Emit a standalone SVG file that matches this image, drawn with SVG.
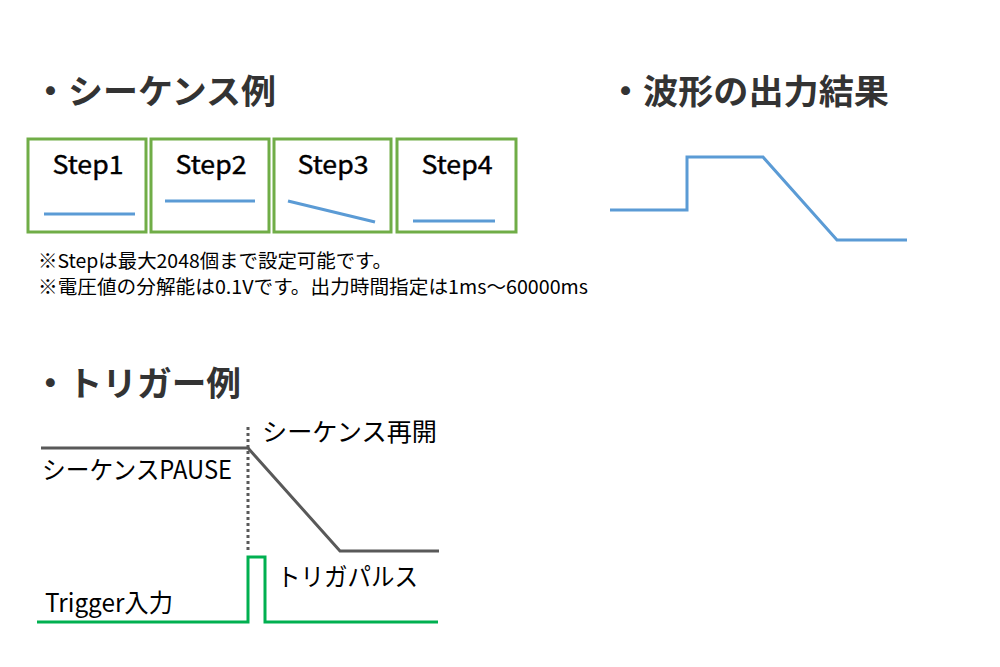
<svg xmlns="http://www.w3.org/2000/svg" width="1000" height="667" viewBox="0 0 1000 667">
<style>
.h{font-family:"Noto Sans CJK JP","Noto Sans",sans-serif;font-weight:bold;font-size:34px;fill:#333333}
.box{fill:#ffffff;stroke:#70AD47;stroke-width:3}
.step{font-family:"Noto Sans CJK JP","Noto Sans",sans-serif;font-size:25px;font-weight:normal;fill:#000000;text-anchor:middle;stroke:#000000;stroke-width:0.4}
.blue{fill:none;stroke:#5B9BD5;stroke-width:3}
.note{font-family:"Noto Sans CJK JP","Liberation Sans",sans-serif;font-size:19px;fill:#000000}
.lbl{font-family:"Noto Sans CJK JP","Noto Sans",sans-serif;font-size:25px;fill:#000000}
.gray{fill:none;stroke:#595959;stroke-width:3}
.green{fill:none;stroke:#00B050;stroke-width:3}
</style>
<rect width="1000" height="667" fill="#ffffff"/>
<g id="titles">
<text class="h" x="33" y="104" textLength="243" lengthAdjust="spacingAndGlyphs">・シーケンス例</text>
<text class="h" x="608" y="104" textLength="281" lengthAdjust="spacingAndGlyphs">・波形の出力結果</text>
<text class="h" x="33" y="396" textLength="208" lengthAdjust="spacingAndGlyphs">・トリガー例</text>
</g>
<g id="step1">
<rect class="box" x="28" y="139" width="118" height="93"/>
<text class="step" x="88" y="174" textLength="71" lengthAdjust="spacingAndGlyphs">Step1</text>
<line class="blue" x1="44" y1="214" x2="135" y2="214"/>
</g>
<g id="step2">
<rect class="box" x="151" y="139" width="118" height="93"/>
<text class="step" x="211" y="174" textLength="71" lengthAdjust="spacingAndGlyphs">Step2</text>
<line class="blue" x1="165" y1="201" x2="255" y2="201"/>
</g>
<g id="step3">
<rect class="box" x="274" y="139" width="117" height="93"/>
<text class="step" x="333" y="174" textLength="71" lengthAdjust="spacingAndGlyphs">Step3</text>
<line class="blue" x1="288" y1="201" x2="375" y2="222"/>
</g>
<g id="step4">
<rect class="box" x="397" y="139" width="119" height="93"/>
<text class="step" x="457" y="174" textLength="71" lengthAdjust="spacingAndGlyphs">Step4</text>
<line class="blue" x1="413" y1="221" x2="495" y2="221"/>
</g>
<g id="notes">
<text class="note" x="38" y="268" textLength="354" lengthAdjust="spacingAndGlyphs">※Stepは最大2048個まで設定可能です。</text>
<text class="note" x="38" y="294" textLength="550" lengthAdjust="spacingAndGlyphs">※電圧値の分解能は0.1Vです。出力時間指定は1ms～60000ms</text>
</g>
<g id="waveform">
<polyline class="blue" points="610,210 687,210 687,157 763,157 837,240 907,240"/>
</g>
<g id="connectors">
<polyline class="gray" points="41,448 248,448 340,551 439,551"/>
<line x1="248" y1="427" x2="248" y2="550" stroke="#595959" stroke-width="3" stroke-dasharray="3,3"/>
<polyline class="green" points="37,622 248,622 248,557 265,557 265,622 438,622"/>
</g>
<g id="labels">
<text class="lbl" x="262" y="441" textLength="175" lengthAdjust="spacingAndGlyphs">シーケンス再開</text>
<text class="lbl" x="42" y="479" textLength="190" lengthAdjust="spacingAndGlyphs">シーケンスPAUSE</text>
<text class="lbl" x="277" y="586" textLength="141" lengthAdjust="spacingAndGlyphs">トリガパルス</text>
<text class="lbl" x="45" y="612" font-size="22" textLength="128" lengthAdjust="spacingAndGlyphs">Trigger入力</text>
</g>
</svg>
